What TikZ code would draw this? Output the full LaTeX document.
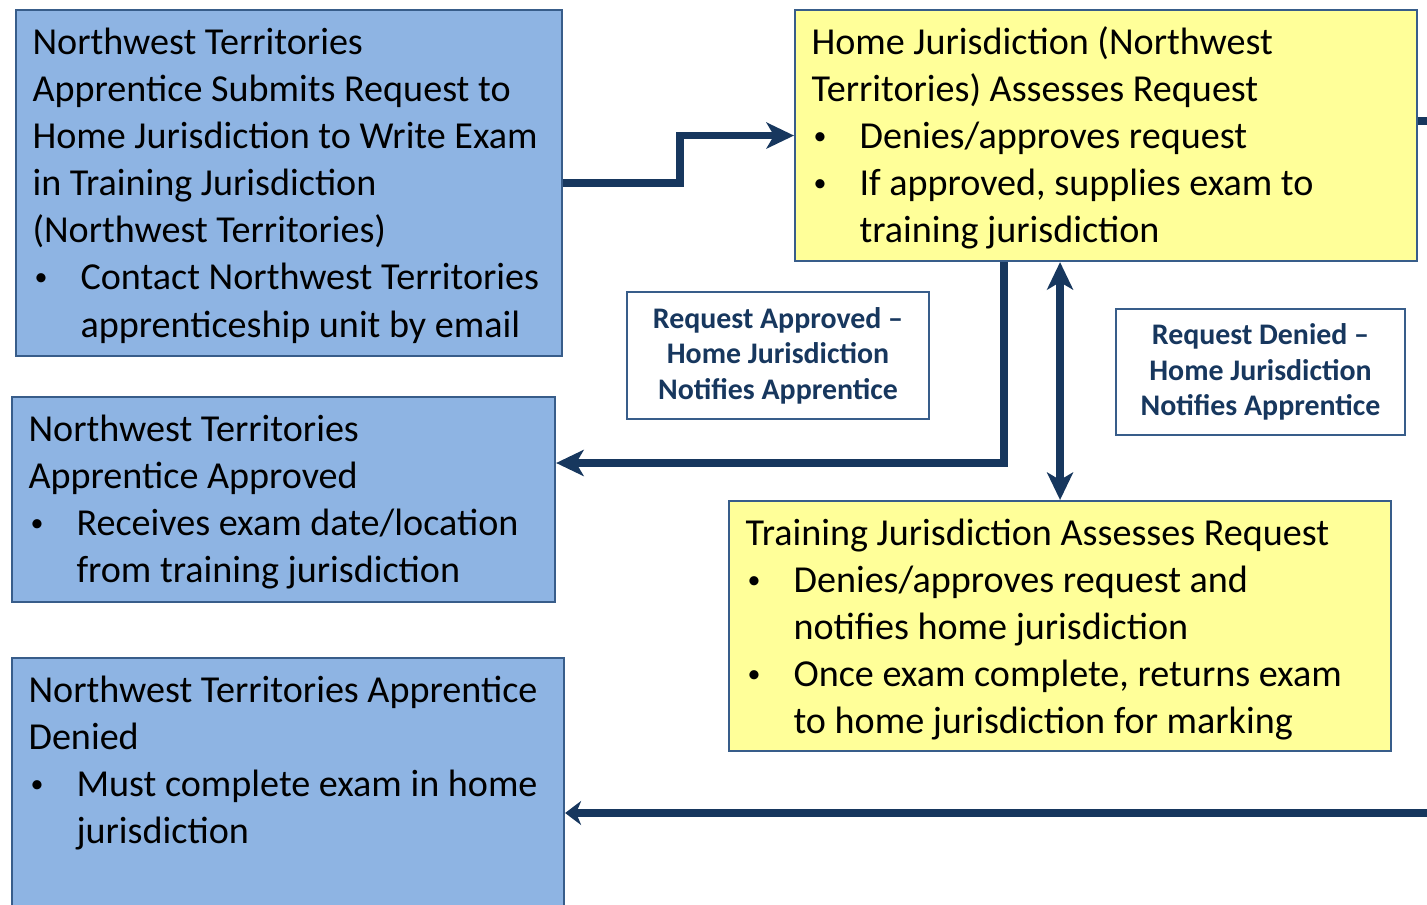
\documentclass[tikz,border=0pt]{standalone}
\usepackage{fontspec}
\setmainfont{Carlito}
\usetikzlibrary{arrows.meta,calc}
\definecolor{boxblue}{HTML}{8EB4E3}
\definecolor{boxyellow}{HTML}{FFFF99}
\definecolor{edgeblue}{HTML}{385D8A}
\definecolor{flownavy}{HTML}{17375E}
\def\bul{\makebox[0.96cm][l]{\hspace*{0.04cm}\raisebox{0.12em}{\scalebox{0.68}{\textbullet}}}}
\def\ind{\hspace*{0.96cm}}
\def\boxtext#1#2#3{\parbox[t][#2][t]{#1}{\rightskip=-1cm plus 1fil\relax\strut#3}}

\begin{document}
\begin{tikzpicture}[
	bluebox/.style={draw=edgeblue, line width=1.2pt, fill=boxblue, anchor=north west, inner xsep=0.33cm, inner ysep=0.24cm, font=\fontsize{21.7}{26.75}\selectfont},
	yellowbox/.style={bluebox, fill=boxyellow},
	note/.style={draw=edgeblue, line width=1.2pt, fill=white, text=flownavy, align=center, inner sep=0pt, font=\bfseries\fontsize{17}{20.2}\selectfont},
	flow/.style={draw=flownavy, line width=4.2pt, >={Stealth[length=0.55cm,width=0.52cm,inset=0.15cm]}, ->}
	]
			%%%%% START %%%%%
			
			\useasboundingbox (0,0) rectangle (28.54,-18.10);
			\clip (0,0) rectangle (28.54,-18.10);
			
			% left column
			\node[bluebox] (submit) at (0.30,-0.18) {\boxtext{10.26cm}{6.44cm}{Northwest Territories\\
				Apprentice Submits Request to\\
				Home Jurisdiction to Write Exam\\
				in Training Jurisdiction\\
				(Northwest Territories)\\
				\bul Contact Northwest Territories\\
				\ind apprenticeship unit by email}};
			\node[bluebox] (approved) at (0.22,-7.92) {\boxtext{10.20cm}{3.62cm}{Northwest Territories\\
				Apprentice Approved\\
				\bul Receives exam date/location\\
				\ind from training jurisdiction}};
			\node[bluebox] (denied) at (0.22,-13.14) {\boxtext{10.38cm}{5.52cm}{Northwest Territories Apprentice\\
				Denied\\
				\bul Must complete exam in home\\
				\ind jurisdiction}};
			
			% right column
			\node[yellowbox] (home) at (15.88,-0.18) {\boxtext{11.78cm}{4.54cm}{Home Jurisdiction (Northwest\\
				Territories) Assesses Request\\
				\bul Denies/approves request\\
				\bul If approved, supplies exam to\\
				\ind training jurisdiction}};
			\node[yellowbox] (training) at (14.56,-10.00) {\boxtext{12.58cm}{4.52cm}{Training Jurisdiction Assesses Request\\
				\bul Denies/approves request and\\
				\ind notifies home jurisdiction\\
				\bul Once exam complete, returns exam\\
				\ind to home jurisdiction for marking}};
			
			% notes
			\node[note, minimum width=6.04cm, minimum height=2.54cm] (okmsg) at (15.56,-7.11) {Request Approved –\\Home Jurisdiction\\Notifies Apprentice};
			\node[note, minimum width=5.78cm, minimum height=2.52cm] (nomsg) at (25.21,-7.44) {Request Denied –\\Home Jurisdiction\\Notifies Apprentice};
			
			% connectors
			\draw[flow] (submit.east) -- ++(2.34,0) |- (home.west);
			\draw[flow] ([xshift=-2.04cm]home.south) |- ([yshift=-1.34cm]approved.north east);
			\draw[flow, <->] (training.north |- home.south) -- (training.north);
			\draw[flow, -{Stealth[length=0.32cm,width=0.48cm,inset=0.1cm]}] ([yshift=0.29cm]home.east) -- ++(1,0) |- ([yshift=-3.12cm]denied.north east);
			
			%%%%% END %%%%%
\end{tikzpicture}
\end{document}
